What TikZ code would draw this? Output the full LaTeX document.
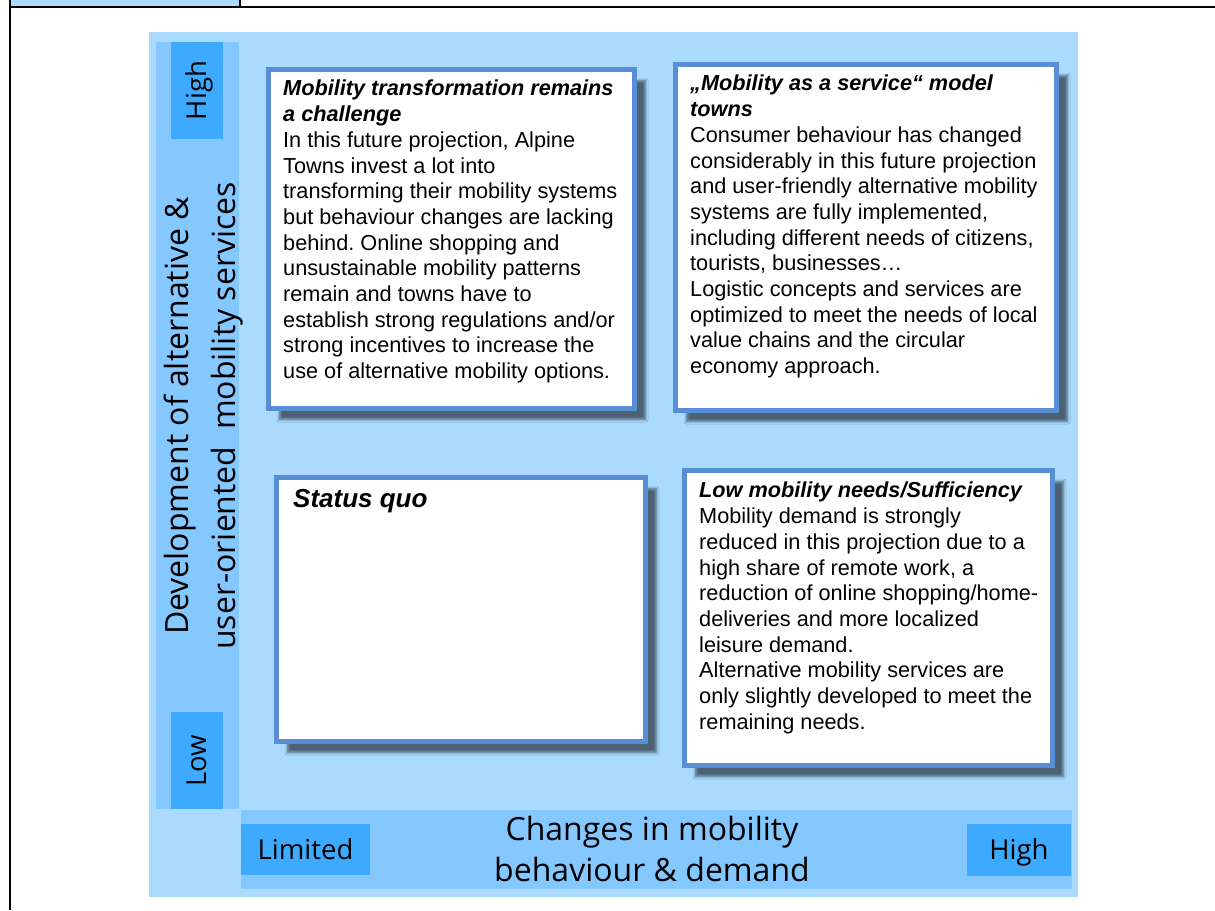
\documentclass[tikz,border=0pt]{standalone}
\usepackage{fontspec}
\setmainfont{Liberation Sans}
\newfontfamily\axisfont{Open Sans}
\usetikzlibrary{shadows.blur}
\frenchspacing
\definecolor{bgblue}{HTML}{AADBFF}
\definecolor{barblue}{HTML}{85C8FF}
\definecolor{lvlblue}{HTML}{3DAAFF}
\definecolor{frameblue}{HTML}{588ED6}
\tikzset{
	quad/.style={draw=frameblue, line width=5pt, fill=white, inner sep=0pt,
		blur shadow={shadow xshift=11pt, shadow yshift=-11pt, shadow blur radius=2.5pt, shadow blur steps=6, shadow opacity=55}},
	quadtext/.style={anchor=north west, inner sep=0pt, align=left, font=\fontsize{21.7}{25.7}\selectfont},
	lvl/.style={fill=lvlblue, inner sep=0pt, text height=19.6pt, text depth=0pt, font=\axisfont\fontsize{27.5}{33}\selectfont},
	axis/.style={inner sep=0pt, align=center},
}
\begin{document}
\begin{tikzpicture}[x=1pt, y=-1pt]
	\useasboundingbox (0,0) rectangle (1215,910);
	\fill[bgblue] (11,0) rectangle (239,6);
	\draw[line width=2pt] (10,0) -- (10,910);
	\draw[line width=2pt] (9,6.5) -- (1215,6.5);
	\draw[line width=2pt] (240,0) -- (240,6.5);
	\fill[bgblue] (149,32) rectangle (1078,897);
	\fill[barblue] (156,42) rectangle (239,809);
	\fill[barblue] (241,810) rectangle (1072,889);
	\node[lvl, rotate=90, minimum width=97pt, minimum height=52pt] (yhigh) at (197,90.5) {High};
	\node[lvl, rotate=90, minimum width=97pt, minimum height=52pt] (ylow) at (197,760.5) {Low};
	\node[lvl, minimum width=129pt, minimum height=51pt] (xlow) at (305.5,849.5) {Limited};
	\node[lvl, minimum width=104pt, minimum height=52pt] (xhigh) at (1019,850) {High};
	\node[axis, rotate=90, font=\axisfont\fontsize{32}{47}\selectfont] (ytitle) at (204,416)
		{Development of alternative \&\\user-oriented\ \ mobility services};
	\node[axis, anchor=north, font=\axisfont\fontsize{32}{40.5}\selectfont] (xtitle) at (652,816)
		{Changes in mobility\\behaviour \& demand};
	\node[quad, minimum width=366pt, minimum height=339pt] (tl) at (451.5,239) {};
	\node[quad, minimum width=381pt, minimum height=346pt] (tr) at (866,237.5) {};
	\node[quad, minimum width=369pt, minimum height=264pt] (bl) at (461,609.5) {};
	\node[quad, minimum width=368pt, minimum height=295pt] (br) at (868.5,618) {};
	\node[quadtext] (tltext) at ([shift={(17,13)}]tl.north west)
		{\textbf{\textit{Mobility transformation remains}}\\
		\textbf{\textit{a challenge}}\\
		In this future projection, Alpine\\
		Towns invest a lot into\\
		transforming their mobility systems\\
		but behaviour changes are lacking\\
		behind. Online shopping and\\
		unsustainable mobility patterns\\
		remain and towns have to\\
		establish strong regulations and/or\\
		strong incentives to increase the\\
		use of alternative mobility options.};
	\node[quadtext] (trtext) at ([shift={(17,13)}]tr.north west)
		{\textbf{\textit{„Mobility as a service“ model}}\\
		\textbf{\textit{towns}}\\
		Consumer behaviour has changed\\
		considerably in this future projection\\
		and user-friendly alternative mobility\\
		systems are fully implemented,\\
		including different needs of citizens,\\
		tourists, businesses…\\
		Logistic concepts and services are\\
		optimized to meet the needs of local\\
		value chains and the circular\\
		economy approach.};
	\node[quadtext, font=\fontsize{26}{30}\selectfont\bfseries\itshape] (bltext) at ([shift={(19,14)}]bl.north west)
		{Status quo};
	\node[quadtext] (brtext) at ([shift={(17,14)}]br.north west)
		{\textbf{\textit{Low mobility needs/Sufficiency}}\\
		Mobility demand is strongly\\
		reduced in this projection due to a\\
		high share of remote work, a\\
		reduction of online shopping/home-\\
		deliveries and more localized\\
		leisure demand.\\
		Alternative mobility services are\\
		only slightly developed to meet the\\
		remaining needs.};
\end{tikzpicture}
\end{document}
